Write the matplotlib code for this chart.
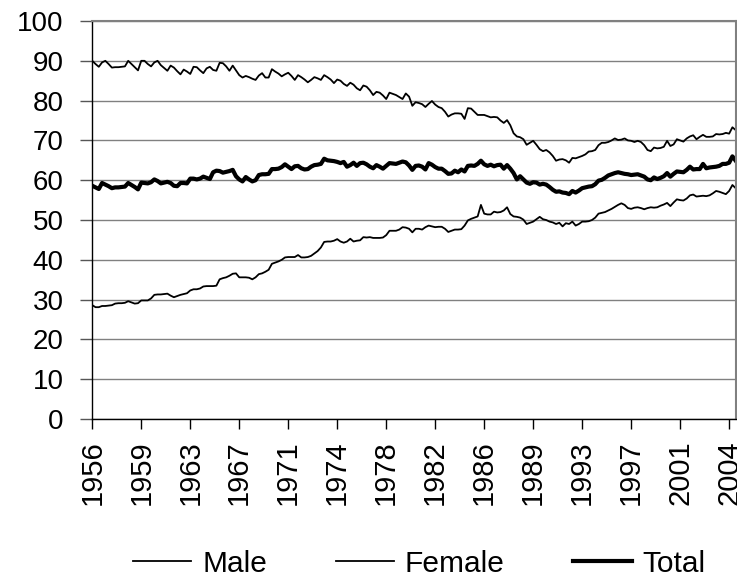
import matplotlib
matplotlib.use('Agg')
import matplotlib.pyplot as plt

plt.rcParams['font.family'] = ['Liberation Sans', 'DejaVu Sans']

# quarterly series, 1956 Q1 onwards
male = [
    90.0, 89.2, 88.5, 89.6, 90.0, 89.2, 88.3, 88.4, 88.4, 88.5,
    88.6, 90.0, 89.2, 88.4, 87.6, 90.0, 90.0, 89.2, 88.6, 89.6,
    90.0, 88.9, 88.2, 87.5, 88.8, 88.3, 87.4, 86.6, 87.8, 87.3,
    86.7, 88.5, 88.4, 87.6, 86.9, 88.1, 88.5, 87.7, 87.5, 89.5,
    89.4, 88.6, 87.5, 88.8, 87.6, 86.4, 85.8, 86.2, 85.9, 85.5,
    85.2, 86.3, 86.9, 85.8, 85.8, 87.9, 87.3, 86.8, 86.1, 86.6,
    87.0, 86.2, 85.2, 86.4, 85.9, 85.3, 84.6, 85.2, 85.9, 85.6,
    85.2, 86.4, 85.9, 85.3, 84.4, 85.3, 85.0, 84.2, 83.7, 84.5,
    84.0, 83.1, 82.6, 83.8, 83.5, 82.6, 81.4, 82.2, 82.0, 81.3,
    80.4, 82.0, 81.7, 81.4, 80.9, 80.4, 81.8, 81.0, 78.7, 79.6,
    79.4, 79.1, 78.4, 79.2, 79.9, 79.0, 78.4, 78.1, 77.2, 76.0,
    76.5, 76.8, 76.8, 76.7, 75.4, 78.1, 78.0, 77.2, 76.4, 76.4,
    76.4, 76.1, 75.8, 75.9, 75.8, 75.0, 74.4, 75.1, 73.8, 71.8,
    71.0, 70.8, 70.3, 68.9, 69.4, 69.9, 68.9, 67.8, 67.3, 67.6,
    67.0, 66.1, 64.9, 65.2, 65.3, 65.0, 64.4, 65.6, 65.5, 65.8,
    66.1, 66.5, 67.2, 67.3, 67.6, 68.8, 69.4, 69.4, 69.6, 70.0,
    70.5, 70.1, 70.2, 70.5, 70.0, 69.9, 69.6, 69.9, 69.6, 68.8,
    67.6, 67.3, 68.2, 68.0, 68.1, 68.4, 69.9, 68.6, 69.0, 70.3,
    70.0, 69.7, 70.5, 71.0, 71.3, 70.3, 70.9, 71.4, 70.9, 70.9,
    71.0, 71.6, 71.5, 71.6, 71.9, 71.7, 73.3, 72.6,
]
female = [
    28.6, 28.1, 28.1, 28.4, 28.4, 28.5, 28.6, 29.0, 29.1, 29.1,
    29.2, 29.6, 29.3, 29.0, 29.1, 29.8, 29.8, 29.8, 30.3, 31.2,
    31.3, 31.3, 31.4, 31.5, 31.0, 30.6, 30.9, 31.2, 31.4, 31.6,
    32.3, 32.6, 32.6, 32.8, 33.3, 33.4, 33.4, 33.4, 33.5, 35.1,
    35.4, 35.6, 36.0, 36.5, 36.6, 35.6, 35.6, 35.6, 35.5, 35.1,
    35.6, 36.4, 36.6, 37.0, 37.5, 39.0, 39.3, 39.6, 40.0, 40.6,
    40.7, 40.7, 40.7, 41.2, 40.6, 40.6, 40.7, 41.0, 41.6, 42.2,
    43.1, 44.5, 44.6, 44.6, 44.8, 45.2, 44.6, 44.3, 44.6, 45.3,
    44.6, 44.8, 44.9, 45.7, 45.6, 45.7, 45.5, 45.5, 45.5, 45.6,
    46.2, 47.3, 47.3, 47.3, 47.6, 48.2, 48.1, 47.8, 46.9, 47.8,
    47.8, 47.6, 48.2, 48.6, 48.4, 48.2, 48.3, 48.3, 47.8, 47.0,
    47.3, 47.6, 47.6, 47.7, 48.6, 49.9, 50.3, 50.6, 50.9, 53.8,
    51.6, 51.4, 51.4, 52.1, 51.9, 52.0, 52.4, 53.2, 51.5, 50.9,
    50.8, 50.6, 50.1, 49.0, 49.3, 49.6, 50.2, 50.8, 50.2, 50.0,
    49.6, 49.4, 49.0, 49.3, 48.4, 49.2, 49.0, 49.6, 48.6, 49.0,
    49.6, 49.6, 49.7, 50.0, 50.6, 51.6, 51.8, 52.0, 52.4, 52.8,
    53.3, 53.8, 54.2, 53.8, 53.0, 52.8, 53.1, 53.2, 53.0, 52.7,
    53.0, 53.2, 53.1, 53.2, 53.6, 53.9, 54.3, 53.5, 54.4, 55.2,
    55.0, 54.9, 55.4, 56.2, 56.4, 55.9, 56.0, 56.1, 56.0, 56.2,
    56.7, 57.3, 57.1, 56.8, 56.5, 57.3, 58.8, 58.0,
]
total = [
    58.6, 58.2, 57.8, 59.3, 58.9, 58.5, 58.0, 58.2, 58.2, 58.3,
    58.4, 59.3, 58.8, 58.3, 57.7, 59.4, 59.3, 59.2, 59.5, 60.2,
    59.8, 59.2, 59.4, 59.6, 59.3, 58.6, 58.5, 59.3, 59.3, 59.2,
    60.4, 60.4, 60.2, 60.4, 60.9, 60.6, 60.3, 62.0, 62.4, 62.3,
    61.9, 62.1, 62.3, 62.6, 61.0, 60.2, 59.7, 60.8, 60.2, 59.7,
    60.0, 61.3, 61.5, 61.5, 61.6, 62.8, 62.8, 62.9, 63.3, 64.0,
    63.4, 62.8, 63.5, 63.6, 63.0, 62.7, 62.8, 63.4, 63.8, 63.9,
    64.1, 65.4, 65.0, 64.9, 64.8, 64.6, 64.3, 64.6, 63.4, 63.8,
    64.4, 63.6, 64.3, 64.4, 64.0, 63.4, 63.0, 63.8, 63.4, 62.9,
    63.6, 64.3, 64.2, 64.1, 64.4, 64.7, 64.5, 63.7, 62.6, 63.6,
    63.7, 63.4, 62.7, 64.3, 63.9, 63.3, 62.9, 62.9, 62.3, 61.6,
    61.7, 62.4, 62.0, 62.7, 62.2, 63.6, 63.7, 63.6, 64.1, 64.9,
    64.0, 63.6, 63.9, 63.5, 63.8, 63.9, 62.9, 63.8, 62.9, 61.8,
    60.2, 61.0, 60.2, 59.4, 59.1, 59.5, 59.4, 58.9, 59.1, 58.9,
    58.3, 57.6, 57.1, 57.2, 56.9, 56.8, 56.5, 57.3, 56.9, 57.4,
    58.0, 58.2, 58.4, 58.5, 59.0, 59.9, 60.1, 60.6, 61.2, 61.5,
    61.8, 62.0, 61.8, 61.6, 61.5, 61.3, 61.4, 61.5, 61.2, 60.9,
    60.2, 60.0, 60.7, 60.3, 60.6, 61.0, 61.8, 60.9, 61.6, 62.2,
    62.1, 62.0, 62.6, 63.4, 62.7, 62.8, 62.8, 64.1, 63.0, 63.2,
    63.3, 63.4, 63.6, 64.1, 64.1, 64.4, 66.0, 64.9,
]
# label every 15th quarter
year_labels = ['1956', '1959', '1963', '1967', '1971', '1974', '1978',
               '1982', '1986', '1989', '1993', '1997', '2001', '2004']
y_ticks = list(range(0, 101, 10))


def plot_chart():
    fig = plt.figure(figsize=(7.37, 5.79), dpi=100)
    ax = fig.add_axes([0.1252, 0.2763, 0.873, 0.6874])

    n = len(total)
    x = list(range(n))
    ax.plot(x, male, color='black', linewidth=1.3, label='Male')
    ax.plot(x, female, color='black', linewidth=1.3, label='Female')
    ax.plot(x, total, color='black', linewidth=3.0, label='Total')

    ax.set_xlim(0, n - 1)
    ax.set_ylim(0, 100)

    # horizontal grid in gray
    ax.set_yticks(y_ticks)
    ax.yaxis.grid(True, color='#808080', linewidth=1)
    ax.set_axisbelow(True)
    ax.tick_params(axis='y', labelsize=20, length=8.5, width=1,
                   color='#555555', pad=12)

    ax.set_xticks(list(range(0, n, 15))[:len(year_labels)])
    ax.set_xticklabels(year_labels, rotation=90)
    ax.tick_params(axis='x', labelsize=21, length=7.5, width=1,
                   color='black', pad=8)

    for side in ['top', 'right']:
        ax.spines[side].set_color('#808080')
        ax.spines[side].set_linewidth(1.5)
    for side in ['left', 'bottom']:
        ax.spines[side].set_color('black')
        ax.spines[side].set_linewidth(1)

    fig.legend(loc='center', bbox_to_anchor=(0.569, 0.026), ncol=3,
               frameon=False, fontsize=21.5, handlelength=1.95,
               handletextpad=0.37, columnspacing=2.3, borderpad=0)

    fig.savefig('out.png', dpi=100)


if __name__ == "__main__":
    plot_chart()
